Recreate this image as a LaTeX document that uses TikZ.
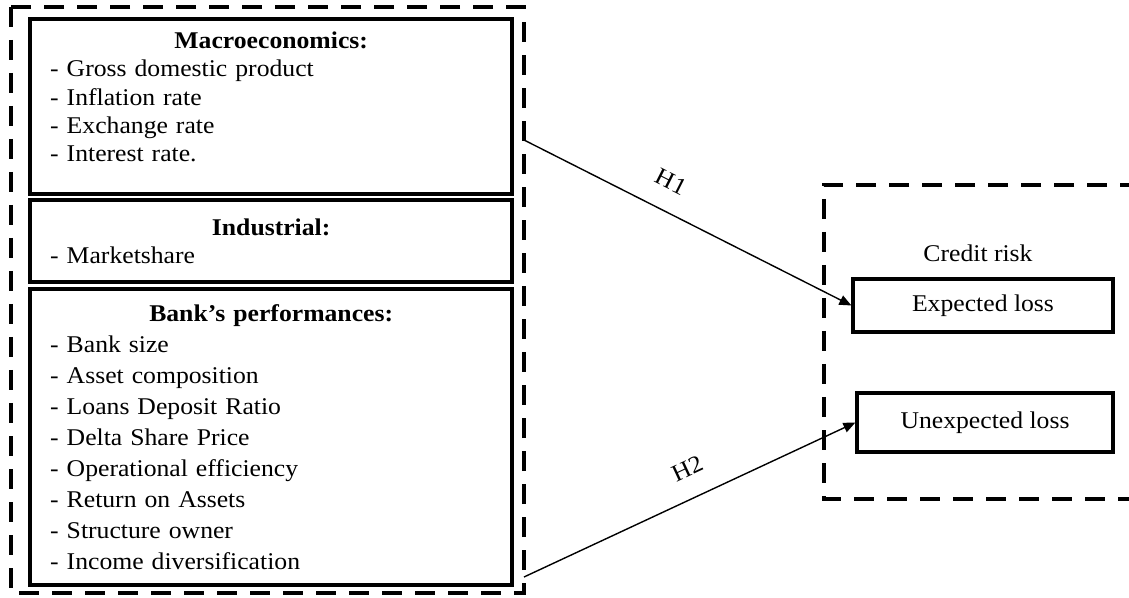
\documentclass[tikz,border=0pt]{standalone}
\usepackage{fontspec}
\setmainfont{Liberation Serif}[FakeStretch=1.07]
\usetikzlibrary{arrows.meta}

\tikzset{
    factorbox/.style={draw, line width=2.2pt, anchor=north west, inner xsep=10pt,
        inner ysep=0pt, text width=221pt},
    groupbox/.style={line width=2pt, dash pattern=on 10pt off 6.5pt},
    lossbox/.style={draw, line width=1.6pt, font=\fontsize{12}{14.4}\selectfont},
    link/.style={-{Triangle[length=6pt,width=5pt]}, line width=0.7pt},
    hyp/.style={sloped, above=7pt, font=\fontsize{12}{14.4}\selectfont}
}

\begin{document}
\begin{tikzpicture}[x=0.5pt,y=-0.5pt]
    \useasboundingbox (0,0) rectangle (1129,598);

    % Determinants
    \draw[groupbox] (11,7) rectangle (524,593);
    \node[factorbox, minimum height=87.5pt, font=\fontsize{12}{14.2}\selectfont] (macro) at (28,17)
        {\centering\textbf{Macroeconomics:}\par\raggedright
         - Gross domestic product\\
         - Inflation rate\\
         - Exchange rate\\
         - Interest rate.\rule[-10pt]{0pt}{10pt}};
    \node[factorbox, minimum height=41pt, font=\fontsize{12}{14}\selectfont] (industry) at (28,198)
        {\centering\textbf{Industrial:}\par\raggedright
         - Marketshare};
    \node[factorbox, minimum height=148pt, font=\fontsize{12}{15.5}\selectfont] (bank) at (28,287)
        {\centering\textbf{Bank’s performances:}\par\raggedright
         - Bank size\\
         - Asset composition\\
         - Loans Deposit Ratio\\
         - Delta Share Price\\
         - Operational efficiency\\
         - Return on Assets\\
         - Structure owner\\
         - Income diversification};

    % Credit risk
    \draw[groupbox] (1140,185) -- (824,185) -- (824,499) -- (1140,499);
    \node[font=\fontsize{12}{14.4}\selectfont] (credit) at (978,253) {Credit risk};
    \node[lossbox, minimum width=130pt, minimum height=26.5pt] (expected) at (983,305.5) {Expected loss};
    \node[lossbox, minimum width=128pt, minimum height=29.5pt] (unexpected) at (985,422.5) {Unexpected loss};

    % Hypotheses
    \coordinate (h1start) at (524,140);
    \coordinate (h2start) at (524,577);
    \draw[link] (h1start) -- node[hyp, pos=0.41] (h1) {H1} (expected.west);
    \draw[link] (h2start) -- node[hyp, pos=0.53] (h2) {H2} (unexpected.west);
\end{tikzpicture}
\end{document}
